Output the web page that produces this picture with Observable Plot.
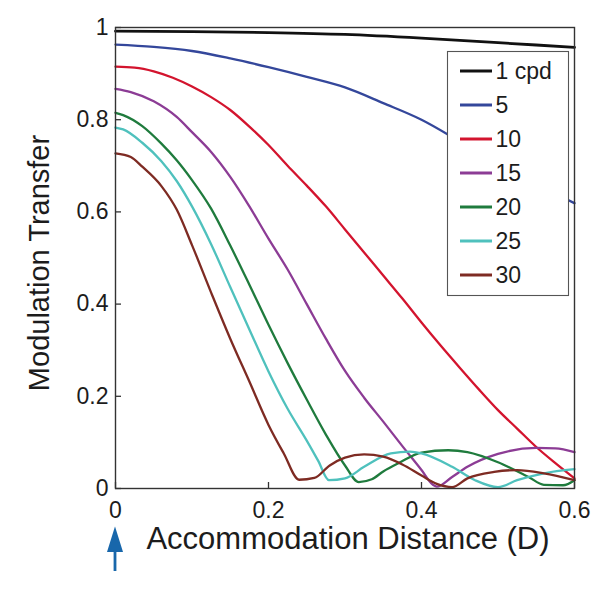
<!DOCTYPE html>
<html><head><meta charset="utf-8">
<script src="https://cdn.jsdelivr.net/npm/d3@7"></script>
<script src="https://cdn.jsdelivr.net/npm/@observablehq/plot@0.6"></script>
<style>
html,body{margin:0;padding:0;background:#fff;}
#chart{position:relative;width:607px;height:593px;font-family:"Liberation Sans",Arial,Helvetica,sans-serif;}
#chart svg{display:block}
.overlay{position:absolute;left:0;top:0;pointer-events:none;overflow:visible}
</style></head><body><div id="chart"></div>
<script>
const seriesNames = ["1 cpd", "5", "10", "15", "20", "25", "30"];
const seriesColors = ["#111111", "#34479b", "#d3142e", "#8c3c95", "#1f7b3d", "#4fc1bd", "#7e2b23"];
const xTicks = [0, 0.2, 0.4, 0.6];
const yTicks = [0, 0.2, 0.4, 0.6, 0.8, 1];
const xTitle = "Accommodation Distance (D)";
const yTitle = "Modulation Transfer";

// [distance (D), modulation transfer]
const mtf1 = [[0,0.992],[0.1,0.991],[0.2,0.989],[0.3,0.985],[0.4,0.977],[0.5,0.967],[0.6,0.957]];
const mtf5 = [[0,0.963],[0.05,0.958],[0.1,0.949],[0.15,0.933],[0.2,0.914],[0.25,0.893],[0.3,0.87],[0.35,0.836],[0.4,0.8],[0.45,0.753],[0.5,0.705],[0.55,0.66],[0.6,0.619]];
const mtf10 = [[0,0.915],[0.025,0.913],[0.05,0.905],[0.075,0.891],[0.1,0.872],[0.125,0.849],[0.15,0.821],[0.175,0.785],[0.2,0.745],[0.225,0.70],[0.25,0.657],[0.275,0.612],[0.3,0.562],[0.325,0.512],[0.35,0.462],[0.375,0.412],[0.4,0.36],[0.425,0.31],[0.45,0.262],[0.475,0.215],[0.5,0.17],[0.525,0.13],[0.55,0.09],[0.575,0.055],[0.6,0.022]];
const mtf15 = [[0,0.867],[0.02,0.86],[0.05,0.84],[0.08,0.806],[0.1,0.773],[0.125,0.73],[0.15,0.676],[0.175,0.612],[0.2,0.542],[0.225,0.475],[0.25,0.4],[0.275,0.325],[0.3,0.255],[0.325,0.197],[0.35,0.145],[0.375,0.092],[0.4,0.04],[0.415,0.008],[0.42,0.004],[0.44,0.025],[0.46,0.047],[0.5,0.075],[0.55,0.088],[0.575,0.087],[0.6,0.079]];
const mtf20 = [[0,0.815],[0.01,0.81],[0.035,0.786],[0.06,0.748],[0.08,0.712],[0.1,0.669],[0.125,0.607],[0.15,0.527],[0.175,0.442],[0.2,0.355],[0.225,0.272],[0.25,0.193],[0.275,0.117],[0.3,0.05],[0.318,0.014],[0.335,0.02],[0.35,0.037],[0.37,0.055],[0.4,0.078],[0.435,0.083],[0.46,0.079],[0.5,0.057],[0.54,0.025],[0.56,0.008],[0.585,0.007],[0.6,0.018]];
const mtf25 = [[0,0.783],[0.01,0.779],[0.035,0.75],[0.06,0.71],[0.08,0.667],[0.1,0.612],[0.125,0.53],[0.15,0.437],[0.175,0.345],[0.2,0.254],[0.225,0.173],[0.25,0.104],[0.265,0.06],[0.279,0.018],[0.3,0.022],[0.325,0.047],[0.36,0.076],[0.385,0.08],[0.4,0.076],[0.44,0.047],[0.47,0.018],[0.5,0.003],[0.525,0.018],[0.56,0.033],[0.6,0.042]];
const mtf30 = [[0,0.727],[0.02,0.719],[0.035,0.698],[0.06,0.656],[0.08,0.605],[0.1,0.528],[0.125,0.425],[0.15,0.325],[0.175,0.232],[0.2,0.138],[0.22,0.076],[0.24,0.019],[0.26,0.023],[0.28,0.05],[0.3,0.067],[0.325,0.074],[0.35,0.069],[0.375,0.052],[0.4,0.028],[0.42,0.01],[0.44,0.003],[0.46,0.022],[0.495,0.036],[0.525,0.04],[0.56,0.033],[0.6,0.018]];

const allSeries = [mtf1, mtf5, mtf10, mtf15, mtf20, mtf25, mtf30];
const rows = allSeries.flatMap((pts, i) => pts.map(([x, y]) => ({x, y, s: seriesNames[i]})));

const W = 607, H = 593, mT = 27, mR = 33, mB = 105, mL = 115;
const frameW = W - mL - mR, frameH = H - mT - mB;
const textColor = "#1c1c1c";
const fmt = d => d === 0 ? "0" : d === 1 ? "1" : String(d);

const chart = Plot.plot({
  width: W, height: H,
  marginTop: mT, marginRight: mR, marginBottom: mB, marginLeft: mL,
  x: {domain: [0, 0.6]},
  y: {domain: [0, 1]},
  color: {domain: seriesNames, range: seriesColors},
  style: {fontFamily: '"Liberation Sans", Arial, Helvetica, sans-serif', color: textColor, background: "white"},
  marks: [
    Plot.line(rows.filter(d => d.s !== seriesNames[0]), {x: "x", y: "y", z: "s", stroke: "s", strokeWidth: 2.3, curve: "monotone-x"}),
    Plot.line(rows.filter(d => d.s === seriesNames[0]), {x: "x", y: "y", stroke: "s", strokeWidth: 2.8, curve: "monotone-x"}),
    Plot.frame({stroke: "#333", strokeWidth: 1.4}),
    Plot.tickX(xTicks, {x: d => d, insetTop: frameH - 6, stroke: "#333", strokeWidth: 1.3}),
    Plot.tickY(yTicks, {y: d => d, insetRight: frameW - 6, stroke: "#333", strokeWidth: 1.3}),
    Plot.axisX({ticks: xTicks, tickSize: 0, tickPadding: 13, fontSize: 23, tickFormat: fmt, label: null, fill: textColor}),
    Plot.axisY({ticks: yTicks, tickSize: 0, tickPadding: 7, fontSize: 23, tickFormat: fmt, label: null, fill: textColor}),
    Plot.text([xTitle], {text: d => d, frameAnchor: "bottom", textAnchor: "middle", dy: 60, dx: 3, fontSize: 31, fill: textColor}),
    Plot.text([yTitle], {text: d => d, frameAnchor: "left", textAnchor: "middle", dx: -76, dy: 5, rotate: -90, fontSize: 29, fill: textColor})
  ]
});

const container = document.getElementById("chart");
container.appendChild(chart);

// Overlay: legend and marker arrow
const ov = d3.select(container).append("svg").attr("class", "overlay").attr("width", W).attr("height", H);

const lg = {x: 447.5, y: 51.5, w: 121, h: 244, row: 34, first: 19.5};
ov.append("rect").attr("x", lg.x).attr("y", lg.y).attr("width", lg.w).attr("height", lg.h)
  .attr("fill", "white").attr("stroke", "#555").attr("stroke-width", 1.1);
seriesNames.forEach((name, i) => {
  const cy = lg.y + lg.first + i * lg.row;
  ov.append("line").attr("x1", lg.x + 12.5).attr("x2", lg.x + 44.5).attr("y1", cy).attr("y2", cy)
    .attr("stroke", seriesColors[i]).attr("stroke-width", 3);
  ov.append("text").attr("x", lg.x + 48).attr("y", cy).attr("dy", "0.36em")
    .attr("font-size", 23).attr("fill", textColor)
    .attr("font-family", '"Liberation Sans", Arial, Helvetica, sans-serif').text(name);
});

const ax = chart.scale("x").apply(0);
const arrowColor = "#1867ab";
ov.append("path").attr("d", `M${ax},526.5 L${ax + 8},552 L${ax - 8},552 Z`).attr("fill", arrowColor);
ov.append("rect").attr("x", ax - 1.4).attr("y", 550).attr("width", 2.8).attr("height", 21).attr("fill", arrowColor);
</script>
</body></html>
